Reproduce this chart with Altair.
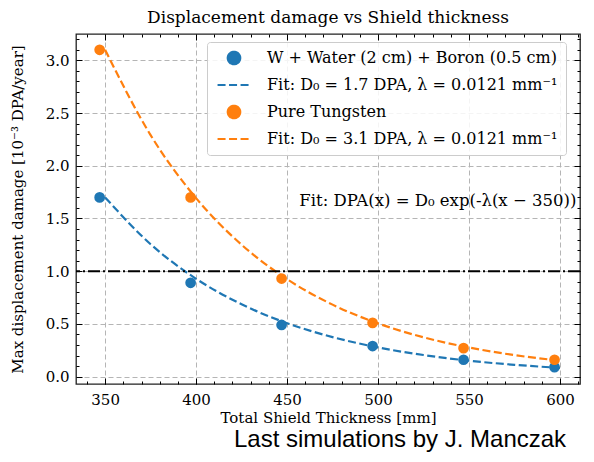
import altair as alt
import pandas as pd

# ---------------- data ----------------
thickness = [347, 397, 447, 497, 547, 597]
dpa_wwb = [1.70, 0.89, 0.49, 0.29, 0.16, 0.09]
dpa_w = [3.10, 1.70, 0.93, 0.51, 0.27, 0.16]

fit_x = [350, 375, 400, 425, 450, 475, 500, 525, 550, 575, 600]
fit_wwb = [1.700, 1.256, 0.928, 0.686, 0.507, 0.375, 0.277, 0.205, 0.151, 0.112, 0.083]
fit_w = [3.100, 2.291, 1.693, 1.251, 0.924, 0.683, 0.505, 0.373, 0.276, 0.204, 0.151]

threshold = [1.0]

S1 = "W + Water (2 cm) + Boron (0.5 cm)"
F1 = "Fit: D\u2080 = 1.7 DPA, \u03bb = 0.0121 mm\u207b\u00b9"
S2 = "Pure Tungsten"
F2 = "Fit: D\u2080 = 3.1 DPA, \u03bb = 0.0121 mm\u207b\u00b9"
series_order = [S1, F1, S2, F2]
series_colors = ["#1f77b4", "#1f77b4", "#ff7f0e", "#ff7f0e"]

x_ticks = [350, 400, 450, 500, 550, 600]
x_minor = list(range(340, 611, 10))
y_ticks = [0.0, 0.5, 1.0, 1.5, 2.0, 2.5, 3.0]
y_minor = [round(i * 0.1, 1) for i in range(0, 33)]

annotation = ["Fit: DPA(x) = D\u2080 exp(-\u03bb(x \u2212 350))"]
ann_pos = [609.0, 1.67]
note = ["Last simulations by J. Manczak"]
title = "Displacement damage vs Shield thickness"
x_title = "Total Shield Thickness [mm]"
y_title = "Max displacement damage [10\u207b\u00b3 DPA/year]"

# ---------------- tables ----------------
pts = pd.DataFrame({
    "x": thickness + thickness,
    "y": dpa_wwb + dpa_w,
    "series": [S1] * len(thickness) + [S2] * len(thickness),
})
fits = pd.DataFrame({
    "x": fit_x + fit_x,
    "y": fit_wwb + fit_w,
    "series": [F1] * len(fit_x) + [F2] * len(fit_x),
})
hline = pd.DataFrame({"y": threshold})
ann = pd.DataFrame({"x": [ann_pos[0]], "y": [ann_pos[1]], "text": annotation})
note_df = pd.DataFrame({"text": note})

SERIF = "DejaVu Serif"
FS = 15
W, H = 504, 350
xscale = alt.Scale(domain=[334, 611], nice=False, zero=False)
yscale = alt.Scale(domain=[-0.07, 3.25], nice=False, zero=False)

legend = alt.Legend(
    orient="none", legendX=131, legendY=8, title=None,
    labelFont=SERIF, labelFontSize=16, labelLimit=500, labelColor="black",
    symbolSize=160, symbolStrokeWidth=2, symbolOffset=11, labelOffset=25,
    padding=8, rowPadding=8,
    fillColor="rgba(255,255,255,0.85)", strokeColor="#cccccc", cornerRadius=3,
)
color = alt.Color("series:N", scale=alt.Scale(domain=series_order, range=series_colors), legend=legend)
shape = alt.Shape("series:N", scale=alt.Scale(domain=series_order,
                  range=["circle", "M-2.6,0H2.6", "circle", "M-2.6,0H2.6"]), legend=legend)
dash = alt.StrokeDash("series:N", scale=alt.Scale(domain=series_order,
                      range=[[1, 0], [8, 3.5], [1, 0], [8, 3.5]]), legend=legend)


def tick_axis(orient, values, size):
    off = -H if orient in ("top", "bottom") else -W
    return alt.Axis(orient=orient, offset=off, values=values, labels=False, ticks=True,
                    tickSize=size, tickColor="black", tickWidth=1, domain=False,
                    grid=False, title=None, zindex=3)


main_x = alt.Axis(orient="bottom", values=x_ticks, format=".0f", ticks=False, domain=False,
                  grid=True, gridColor="#b5b5b5", gridDash=[5, 3], gridWidth=1,
                  labelFont=SERIF, labelFontSize=FS, labelColor="black", labelPadding=8,
                  title=x_title, titleFont=SERIF, titleFontSize=FS, titleFontWeight="normal",
                  titleColor="black", titlePadding=3)
main_y = alt.Axis(orient="left", values=y_ticks, format=".1f", ticks=False, domain=False,
                  grid=True, gridColor="#b5b5b5", gridDash=[5, 3], gridWidth=1,
                  labelFont=SERIF, labelFontSize=FS, labelColor="black", labelPadding=7,
                  title=y_title, titleFont=SERIF, titleFontSize=FS, titleFontWeight="normal",
                  titleColor="black", titlePadding=20)

lines = alt.Chart(fits).mark_line(strokeWidth=2.2, interpolate="monotone").encode(
    x=alt.X("x:Q", scale=xscale, axis=tick_axis("top", x_ticks, 6)),
    y=alt.Y("y:Q", scale=yscale, axis=tick_axis("right", y_ticks, 6)),
    color=color, strokeDash=dash, detail="series:N",
)
points = alt.Chart(pts).mark_point(filled=True, size=115, opacity=1).encode(
    x=alt.X("x:Q", scale=xscale, axis=main_x),
    y=alt.Y("y:Q", scale=yscale, axis=main_y),
    color=color, shape=shape,
)
rule = alt.Chart(hline).mark_rule(color="black", strokeWidth=2, strokeDash=[12, 3, 2, 3]).encode(
    y=alt.Y("y:Q", scale=yscale, axis=None),
)
text = alt.Chart(ann).mark_text(font=SERIF, fontSize=16.5, align="right", baseline="middle",
                                 color="black").encode(
    x=alt.X("x:Q", scale=xscale, axis=tick_axis("bottom", x_ticks, 6)),
    y=alt.Y("y:Q", scale=yscale, axis=tick_axis("left", y_ticks, 6)),
    text="text:N",
)
d1 = alt.Chart(pts).mark_point(opacity=0).encode(
    x=alt.X("x:Q", scale=xscale, axis=tick_axis("top", x_minor, 3)),
    y=alt.Y("y:Q", scale=yscale, axis=tick_axis("right", y_minor, 3)),
)
d2 = alt.Chart(pts).mark_point(opacity=0).encode(
    x=alt.X("x:Q", scale=xscale, axis=tick_axis("bottom", x_minor, 3)),
    y=alt.Y("y:Q", scale=yscale, axis=tick_axis("left", y_minor, 3)),
)
note_layer = alt.Chart(note_df).mark_text(font="Liberation Sans", fontSize=24, align="center",
                                          baseline="middle", color="black").encode(
    x=alt.value(324), y=alt.value(406), text="text:N",
)

chart = alt.layer(lines, points, rule, text, d1, d2, note_layer).resolve_axis(
    x="independent", y="independent"
).properties(
    width=W, height=H,
    title=alt.TitleParams(title, font=SERIF, fontSize=17, fontWeight="normal", color="black",
                          offset=7, anchor="middle"),
    autosize=alt.AutoSizeParams(type="none"),
    padding={"left": 68, "top": 26, "right": 6, "bottom": 70},
).configure_view(stroke="#222222", strokeWidth=1.3)

chart.save("out.html", embed_options={"renderer": "svg", "actions": False})
